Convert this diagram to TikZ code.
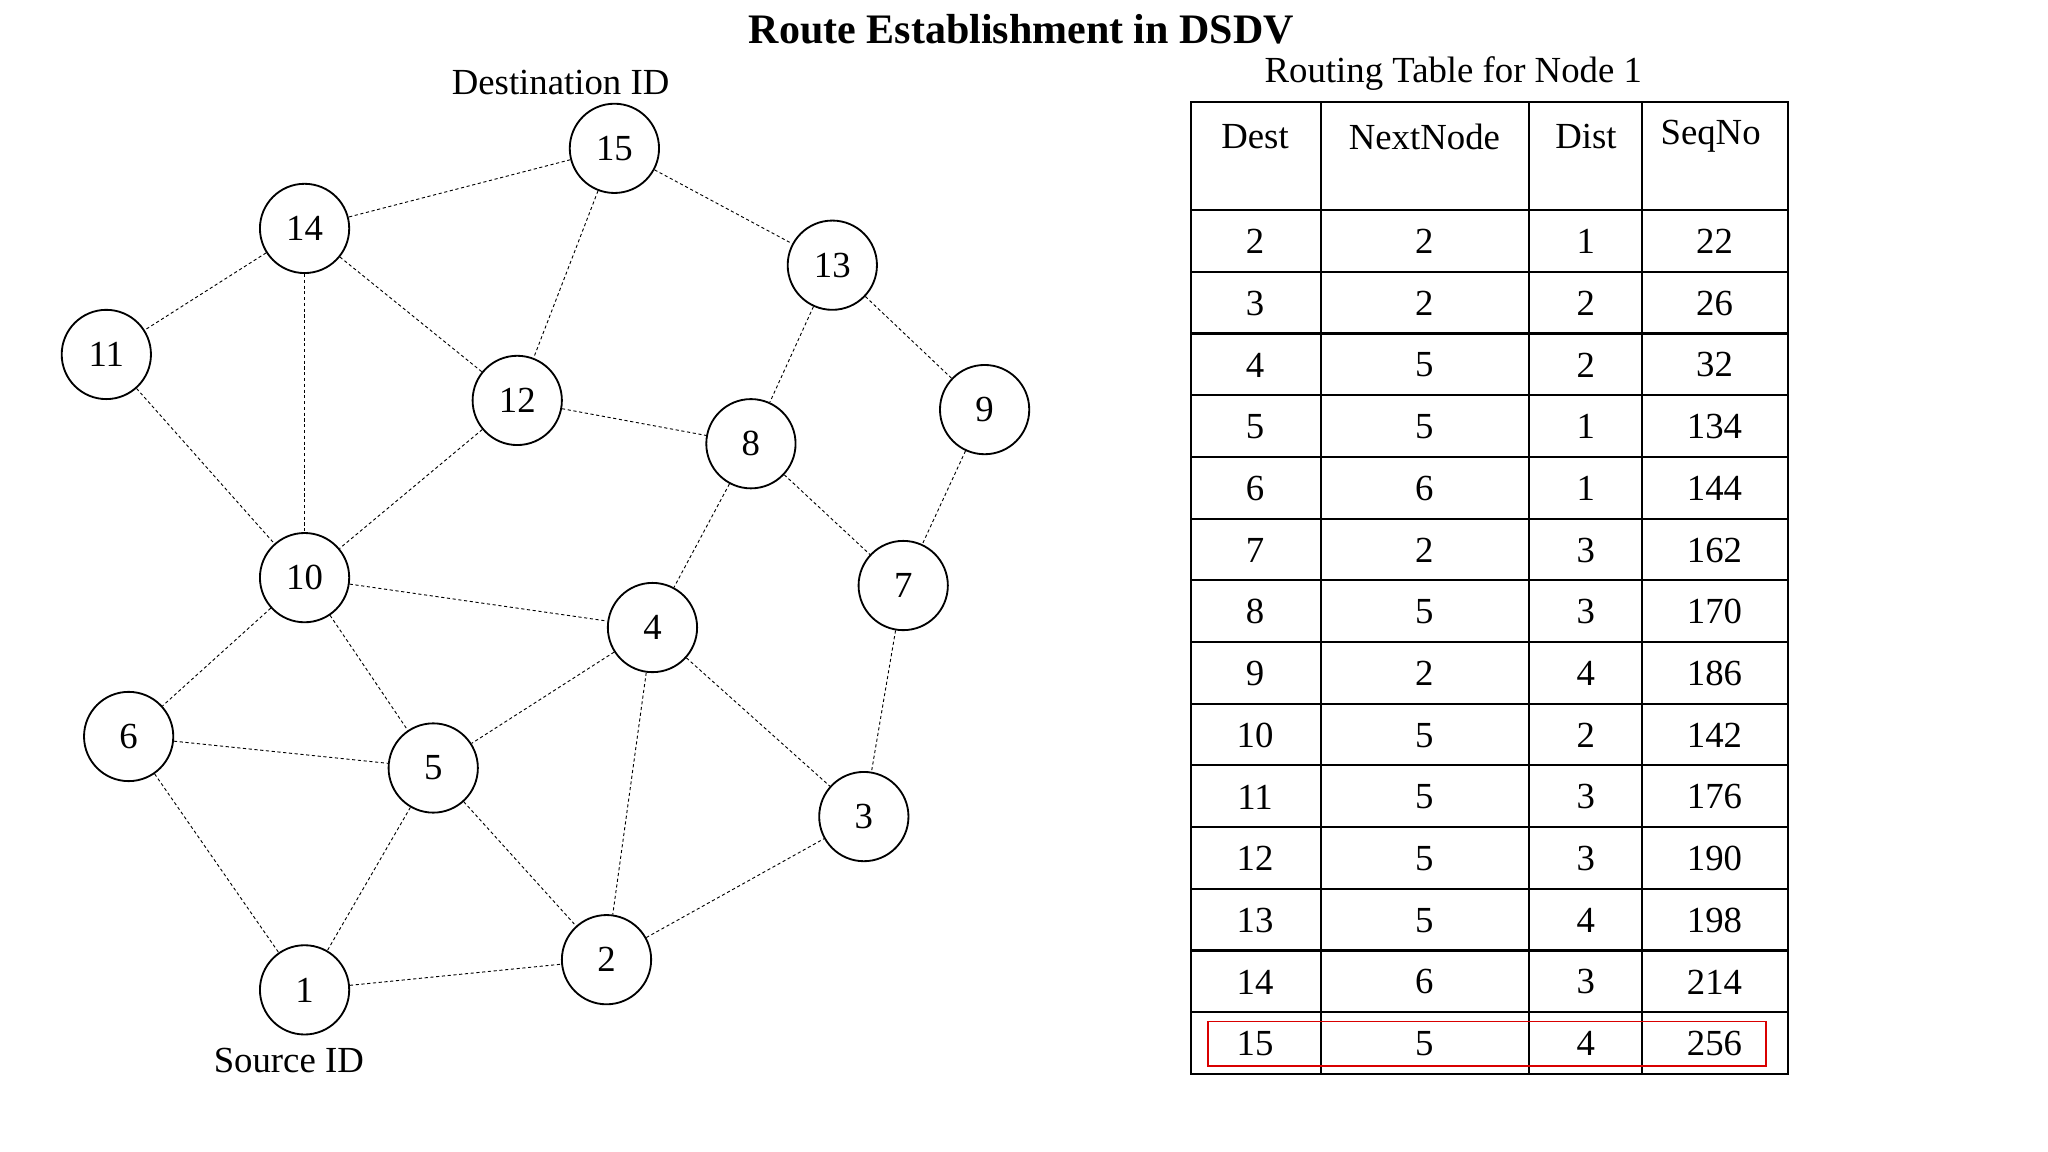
\documentclass[tikz,border=0pt]{standalone}
\usepackage{fontspec}
\setmainfont{Liberation Serif}
\begin{document}
\begin{tikzpicture}[x=0.5pt,y=-0.5pt,
  nd/.style={draw,circle,minimum size=34pt,inner sep=0pt,font=\fontsize{14}{16}\selectfont,line width=0.7pt},
  ed/.style={densely dashed,line width=0.35pt,dash pattern=on 1.2pt off 1pt},
  lbl/.style={font=\fontsize{14}{16}\selectfont},
  tl/.style={line width=0.8pt}]
\useasboundingbox (0,0) rectangle (1560,877.5);
\node[font=\fontsize{16}{18}\selectfont\bfseries] (title) at (778,22) {Route Establishment in DSDV};
\foreach \n/\x/\y in {15/468/113,14/232/174,13/634/202,11/81/270,12/394/305,8/572/338,9/750/312,10/232/440,7/688/446,4/497/478,6/98/561,5/330/585,3/658/622,2/462/731,1/232/754}
  \node[nd] (n\n) at (\x,\y) {\n};
\foreach \a/\b in {15/14,15/12,15/13,14/11,14/10,14/12,13/8,13/9,11/10,12/10,12/8,8/4,8/7,9/7,10/4,10/6,10/5,4/5,4/2,4/3,7/3,6/5,6/1,5/1,5/2,1/2,2/3}
  \draw[ed] (n\a) -- (n\b);
\node[lbl] (dst) at (427,63) {Destination ID};
\node[lbl] (src) at (220,808) {Source ID};
\node[lbl] (rt) at (1107,56) {Routing Table for Node 1};
% table
\draw[tl] (907,78) rectangle (1362,818);
\foreach \x in {1006,1165,1251} \draw[tl] (\x,78) -- (\x,818);
\draw[tl] (907,160) -- (1362,160);
\foreach \i in {1,...,13} \draw[tl] (907,{160+47*\i}) -- (1362,{160+47*\i});
\foreach \t/\x in {Dest/956,NextNode/1085,Dist/1208,SeqNo/1303}
  \node[lbl] (h\t) at (\x,104) {\t};
\foreach \r/\a/\b/\c/\d in {0/2/2/1/22,1/3/2/2/26,2/4/5/2/32,3/5/5/1/134,4/6/6/1/144,5/7/2/3/162,6/8/5/3/170,7/9/2/4/186,8/10/5/2/142,9/11/5/3/176,10/12/5/3/190,11/13/5/4/198,12/14/6/3/214,13/15/5/4/256}{
  \node[lbl] (ra\r) at (956,{184+47*\r}) {\a};
  \node[lbl] (rb\r) at (1085,{184+47*\r}) {\b};
  \node[lbl] (rc\r) at (1208,{184+47*\r}) {\c};
  \node[lbl] (rd\r) at (1306,{184+47*\r}) {\d};
}
\draw[red!85!black,line width=0.6pt] (920,778) rectangle (1345,812);
\end{tikzpicture}
\end{document}
